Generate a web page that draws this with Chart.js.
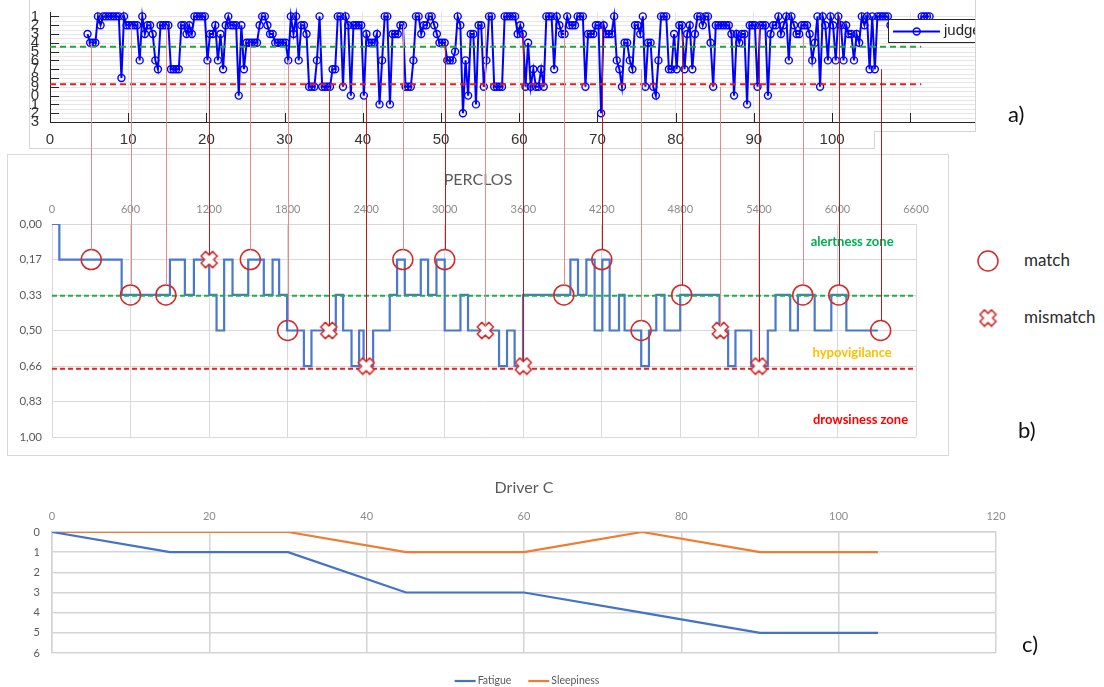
<!DOCTYPE html>
<html>
<head>
<meta charset="utf-8">
<script src="https://cdn.jsdelivr.net/npm/chart.js@4.4.1/dist/chart.umd.min.js"></script>
<style>
  html, body { margin: 0; padding: 0; background: #fff; }
  body { width: 1104px; height: 687px; position: relative; overflow: hidden; font-family: Lato, "Open Sans", sans-serif; }
  .abs { position: absolute; }
  #wrapA { left: 29px; top: 0; width: 946px; height: 148px; overflow: hidden; }
  #frameB { left: 7px; top: 154px; width: 940px; height: 300px; border: 1px solid #d9d9d9; }
  #chartB, #chartA, #chartC { display: block; }
  .rule { position: absolute; background: #d4d4d4; }
  .tag { position: absolute; font-size: 22px; line-height: 22px; color: #111; }
  .key { position: absolute; font-size: 17px; line-height: 20px; color: #2b2b2b; }
  #overlay { left: 0; top: 0; pointer-events: none; z-index: 10; }
</style>
</head>
<body>
<div id="wrapA" class="abs"><canvas id="chartA" width="981" height="148"></canvas></div>
<!-- frame of the rating panel, with its cut lower-right corner -->
<div class="abs" style="left:875px;top:132px;width:101px;height:17px;background:#fff;"></div>
<div class="rule" style="left:29px;top:0;width:1px;height:149px;"></div>
<div class="rule" style="left:29px;top:148px;width:846px;height:1px;"></div>
<div class="rule" style="left:874px;top:131px;width:1px;height:18px;"></div>
<div class="rule" style="left:874px;top:131px;width:102px;height:1px;"></div>
<div class="rule" style="left:975px;top:0;width:1px;height:132px;"></div>

<div id="frameB" class="abs"><canvas id="chartB" width="940" height="300"></canvas></div>
<canvas id="chartC" class="abs" style="left:0;top:470px;" width="1048" height="217"></canvas>

<div class="tag" style="left:1008px;top:103px;">a)</div>
<div class="tag" style="left:1018px;top:419px;">b)</div>
<div class="tag" style="left:1022px;top:633px;">c)</div>
<div class="key" style="left:1024px;top:250px;">match</div>
<div class="key" style="left:1024px;top:307px;">mismatch</div>

<canvas id="overlay" class="abs" width="1104" height="687"></canvas>

<script>
// ---------------- judge ratings (panel a) ----------------
const judgeStart = 4.8;        // minute of the first rating
const judgeStep = 1 / 3;       // minutes between two ratings
const judgeRatings = [
  3,4,4,4,1,2,1,1,1,1,   1,1,1,8,1,2,2,2,2,2,
  6,1,3,2,2,3,6,7,2,2,   2,2,7,7,7,7,2,2,3,2,
  3,1,1,1,1,1,6,3,3,2,   6,3,7,2,1,2,2,2,10,2,
  7,4,4,4,4,4,2,1,1,2,   3,3,4,4,4,4,4,6,1,3,
  1,6,2,2,3,9,9,9,6,1,   9,9,9,9,7,7,1,1,9,1,
  2,10,2,2,2,2,10,3,4,4, 4,3,11,6,1,1,11,3,3,3,
  2,2,9,9,9,6,1,1,3,2,   2,1,1,2,3,4,4,4,6,6,
  6,5,1,2,12,6,10,3,3,11, 2,2,9,6,1,1,9,9,9,9,
  1,1,1,1,1,3,2,3,9,4,   9,7,9,9,7,9,1,1,1,7,
  1,2,3,3,1,2,2,2,1,1,   1,9,3,3,3,2,2,12,2,3,
  3,3,1,6,7,9,4,4,6,7,   2,2,3,1,9,4,4,9,10,6,
  1,1,1,7,7,3,7,2,2,7,   3,2,7,3,1,1,2,1,1,4,
  9,2,2,2,2,2,2,3,10,3,  4,3,3,11,2,2,2,9,2,2,
  2,10,3,2,2,1,3,2,1,6,  1,2,3,3,2,2,2,3,6,4,
  1,9,1,2,6,1,2,6,1,2,   6,2,3,3,6,3,4,1,2,1,
  7,1,7,1,1,1,1,1,2,2,   2,2,2,2,2,2,2,2,2,2,
  1,1,1,1
];
const judgeAlertLimit = 4.45;
const judgeDrowsyLimit = 8.7;
const judgeLimitEnd = 111.4;
const judgeMinuteTicks = [0, 10, 20, 30, 40, 50, 60, 70, 80, 90, 100, 110, 120];
const judgeScaleTicks = [1, 2, 3, 4, 5, 6, 7, 8, 9, 10, 11, 12, 13];

// ---------------- PERCLOS (panel b) ----------------
const perclosTime = [0, 56, 532, 901, 1015, 1084, 1201, 1257, 1315, 1379,
  1499, 1618, 1685, 1735, 1796, 1924, 1982, 2168, 2224, 2288,
  2346, 2380, 2453, 2580, 2636, 2695, 2817, 2873, 2937, 3000,
  3120, 3178, 3415, 3476, 3534, 3598, 3960, 4018, 4082, 4145,
  4204, 4260, 4331, 4374, 4501, 4560, 4616, 4679, 4799, 5099,
  5165, 5221, 5341, 5468, 5527, 5639, 5698, 5826, 5953, 6068, 6309];
const perclosLevel = [0, 0.167, 0.333, 0.167, 0.333, 0.167, 0.333, 0.5, 0.167, 0.333,
  0.167, 0.333, 0.167, 0.333, 0.5, 0.667, 0.5, 0.333, 0.5, 0.667,
  0.5, 0.667, 0.5, 0.333, 0.167, 0.333, 0.167, 0.333, 0.167, 0.5,
  0.333, 0.5, 0.667, 0.5, 0.667, 0.333, 0.167, 0.333, 0.167, 0.5,
  0.167, 0.5, 0.333, 0.5, 0.667, 0.5, 0.333, 0.5, 0.333, 0.5,
  0.667, 0.5, 0.667, 0.5, 0.333, 0.5, 0.333, 0.5, 0.333, 0.5, 0.5];
const perclosAlertLimit = 0.337;
const perclosDrowsyLimit = 0.68;
const perclosSecondTicks = [0, 600, 1200, 1800, 2400, 3000, 3600, 4200, 4800, 5400, 6000, 6600];
const perclosTicks = [0, 1/6, 2/6, 3/6, 4/6, 5/6, 1];
const perclosTickLabels = ['0,00', '0,17', '0,33', '0,50', '0,66', '0,83', '1,00'];

// comparison instants: PERCLOS second, PERCLOS level, judge rating, outcome
const eventTime = [300, 600, 870, 1200, 1515, 1800, 2115, 2400, 2680, 3000, 3310,
  3600, 3910, 4200, 4500, 4810, 5105, 5400, 5735, 6010, 6330];
const eventPerclos = [0.167, 0.333, 0.333, 0.167, 0.167, 0.5, 0.5, 0.667, 0.167, 0.167, 0.5,
  0.667, 0.333, 0.167, 0.5, 0.333, 0.5, 0.667, 0.333, 0.333, 0.5];
const eventJudge = [4, 2, 2, 6, 4, 6, 9, 10, 2, 4, 2, 3, 2, 2, 7, 3, 9, 2, 3, 1, 7];
const eventOutcome = ['match', 'match', 'match', 'mismatch', 'match', 'match', 'mismatch',
  'mismatch', 'match', 'match', 'mismatch', 'mismatch', 'match', 'match', 'match', 'match',
  'mismatch', 'mismatch', 'match', 'match', 'match'];

// ---------------- Driver C (panel c) ----------------
const driverMinutes = [0, 15, 30, 45, 60, 75, 90, 105];
const fatigue = [0, 1, 1, 3, 3, 4, 5, 5];
const sleepiness = [0, 0, 0, 1, 1, 0, 1, 1];
const driverMinuteTicks = [0, 20, 40, 60, 80, 100, 120];
const driverScaleTicks = [0, 1, 2, 3, 4, 5, 6];

// ---------------- styling ----------------
const connectorShade = ['light', 'light', 'light', 'dark', 'light', 'light', 'dark', 'dark', 'light', 'dark', 'light',
  'dark', 'light', 'dark', 'light', 'dark', 'light', 'dark', 'light', 'dark', 'dark'];
const SHADES = { light: '#e48a8a', dark: '#b81c1c' };
const MARK_RED = '#d42a2a';
const EXCEL = 'Lato, "Open Sans", sans-serif';
const MATLAB = '"Liberation Sans", Arial, sans-serif';

Chart.defaults.font.family = EXCEL;

function tickList(values) {
  return axis => { axis.ticks = values.map(v => ({ value: v })); };
}
const plainNumber = v => String(v);

// outlined "x" used for mismatches
function makeCrossMark(size) {
  const c = document.createElement('canvas');
  c.width = c.height = size;
  const g = c.getContext('2d');
  g.translate(size / 2, size / 2);
  g.rotate(Math.PI / 4);
  const w = size * 0.17, L = size * 0.43;
  g.beginPath();
  g.moveTo(-w, -L); g.lineTo(w, -L); g.lineTo(w, -w); g.lineTo(L, -w); g.lineTo(L, w);
  g.lineTo(w, w); g.lineTo(w, L); g.lineTo(-w, L); g.lineTo(-w, w); g.lineTo(-L, w);
  g.lineTo(-L, -w); g.lineTo(-w, -w); g.closePath();
  g.fillStyle = '#fff'; g.fill();
  g.lineJoin = 'round'; g.lineWidth = 1.6; g.strokeStyle = MARK_RED; g.stroke();
  return c;
}
const crossMark = makeCrossMark(19);

// ---------------- panel a: MATLAB-like axes ----------------
const matlabAxes = {
  id: 'matlabAxes',
  beforeDatasetsDraw(chart) {
    const { ctx, chartArea: a, scales: { x, y } } = chart;
    ctx.save();
    ctx.strokeStyle = '#e6e6e6';
    ctx.lineWidth = 1;
    for (let v = 1; v <= 12.5; v += 0.5) {
      const py = Math.round(y.getPixelForValue(v)) + 0.5;
      ctx.beginPath(); ctx.moveTo(a.left + 1, py); ctx.lineTo(a.right, py); ctx.stroke();
    }
    ctx.strokeStyle = '#262626';
    judgeScaleTicks.forEach(v => {
      const py = Math.round(y.getPixelForValue(v)) + 0.5;
      ctx.beginPath(); ctx.moveTo(a.left, py); ctx.lineTo(a.left + 9, py); ctx.stroke();
    });
    judgeMinuteTicks.forEach(v => {
      const px = Math.round(x.getPixelForValue(v)) + 0.5;
      ctx.beginPath(); ctx.moveTo(px, a.bottom); ctx.lineTo(px, a.bottom - 9); ctx.stroke();
    });
    ctx.restore();
  },
  afterDraw(chart) {
    // legend box
    const { ctx } = chart;
    ctx.save();
    ctx.fillStyle = '#fff';
    ctx.strokeStyle = '#262626';
    ctx.lineWidth = 1;
    ctx.fillRect(859.5, 19.5, 200, 23);
    ctx.strokeRect(859.5, 19.5, 200, 23);
    ctx.strokeStyle = '#0000ff';
    ctx.lineWidth = 2;
    ctx.beginPath(); ctx.moveTo(864, 31.5); ctx.lineTo(911, 31.5); ctx.stroke();
    ctx.lineWidth = 1.4;
    ctx.beginPath(); ctx.arc(887.7, 31.5, 3.5, 0, Math.PI * 2); ctx.stroke();
    ctx.fillStyle = '#262626';
    ctx.font = '15px ' + MATLAB;
    ctx.textBaseline = 'middle';
    ctx.fillText('judge', 915, 31);
    ctx.restore();
  }
};

const chartA = new Chart(document.getElementById('chartA'), {
  type: 'line',
  data: {
    datasets: [
      {
        label: 'judge',
        data: judgeRatings.map((v, i) => ({ x: judgeStart + i * judgeStep, y: v })),
        borderColor: '#0000ff', borderWidth: 2,
        pointStyle: 'circle', pointRadius: 3.5, pointBorderWidth: 1.4,
        pointBorderColor: '#0000ff', pointBackgroundColor: 'rgba(0,0,0,0)',
        clip: false, order: 2
      },
      {
        data: [{ x: 0, y: judgeAlertLimit }, { x: judgeLimitEnd, y: judgeAlertLimit }],
        borderColor: '#22a637', borderWidth: 2, borderDash: [6, 4], pointRadius: 0, order: 1
      },
      {
        data: [{ x: 0, y: judgeDrowsyLimit }, { x: judgeLimitEnd, y: judgeDrowsyLimit }],
        borderColor: '#ec1c1c', borderWidth: 2, borderDash: [6, 4], pointRadius: 0, order: 1
      }
    ]
  },
  options: {
    responsive: false, animation: false, devicePixelRatio: 1,
    layout: { padding: { top: 6.4, right: 12, left: 0, bottom: 0 } },
    plugins: { legend: { display: false }, tooltip: { enabled: false }, title: { display: false } },
    scales: {
      x: {
        type: 'linear', position: 'bottom', min: 0, max: 120,
        afterBuildTicks: tickList(judgeMinuteTicks),
        afterFit: s => { s.height = 26; },
        grid: { color: '#e6e6e6', drawTicks: false },
        border: { color: '#262626', width: 1 },
        ticks: { font: { family: MATLAB, size: 15 }, color: '#333', padding: 9, maxRotation: 0, autoSkip: false,
          callback: plainNumber }
      },
      y: {
        type: 'linear', position: 'left', min: 0.5, max: 13, reverse: true,
        afterBuildTicks: tickList(judgeScaleTicks),
        afterFit: s => { s.width = 21; },
        grid: { display: false },
        border: { color: '#262626', width: 1 },
        ticks: { font: { family: MATLAB, size: 15 }, color: '#333', padding: 3, autoSkip: false,
          callback: plainNumber }
      }
    }
  },
  plugins: [matlabAxes]
});

// ---------------- panel b ----------------
const zoneLabels = {
  id: 'zoneLabels',
  afterDatasetsDraw(chart) {
    const { ctx, scales: { x, y } } = chart;
    ctx.save();
    ctx.font = 'bold 13px ' + EXCEL;
    ctx.textAlign = 'center';
    ctx.textBaseline = 'middle';
    const zones = [
      ['alertness zone', '#00b050', 6112, 0.083],
      ['hypovigilance', '#ffc000', 6112, 0.604],
      ['drowsiness zone', '#ff0000', 6176, 0.917]
    ];
    zones.forEach(([txt, col, zx, zy]) => {
      ctx.fillStyle = col;
      ctx.fillText(txt, x.getPixelForValue(zx), y.getPixelForValue(zy));
    });
    ctx.restore();
  }
};

const perclosPoints = perclosTime.map((t, i) => ({ x: t, y: perclosLevel[i] }));
const matchPoints = [], mismatchPoints = [];
eventTime.forEach((t, i) => {
  (eventOutcome[i] === 'match' ? matchPoints : mismatchPoints).push({ x: t, y: eventPerclos[i] });
});

const chartB = new Chart(document.getElementById('chartB'), {
  type: 'line',
  data: {
    datasets: [
      { data: matchPoints, showLine: false, pointStyle: 'circle', pointRadius: 10, pointBorderWidth: 1.5,
        pointBorderColor: MARK_RED, pointBackgroundColor: 'rgba(0,0,0,0)', clip: false, order: 0 },
      { data: mismatchPoints, showLine: false, pointStyle: crossMark, pointRadius: 9, clip: false, order: 0 },
      { data: [{ x: 0, y: perclosAlertLimit }, { x: 6600, y: perclosAlertLimit }],
        borderColor: '#1fae4b', borderWidth: 2, borderDash: [5, 3], pointRadius: 0, order: 1 },
      { data: [{ x: 0, y: perclosDrowsyLimit }, { x: 6600, y: perclosDrowsyLimit }],
        borderColor: '#f01c1c', borderWidth: 2, borderDash: [5, 3], pointRadius: 0, order: 1 },
      { label: 'PERCLOS', data: perclosPoints, stepped: true, borderColor: '#4a78cc', borderWidth: 2.2,
        pointRadius: 0, order: 2 }
    ]
  },
  options: {
    responsive: false, animation: false, devicePixelRatio: 1,
    layout: { padding: { top: 0, right: 0, left: 0, bottom: 18 } },
    plugins: {
      legend: { display: false }, tooltip: { enabled: false },
      title: { display: true, text: 'PERCLOS', color: '#595959', font: { size: 16, weight: 'normal' },
        padding: { top: 15.4, bottom: 0 } }
    },
    scales: {
      x: {
        type: 'linear', position: 'top', min: 0, max: 6600,
        afterBuildTicks: tickList(perclosSecondTicks),
        afterFit: s => { s.height = 34.4; },
        grid: { color: '#d9d9d9', drawTicks: false },
        border: { color: '#d9d9d9' },
        ticks: { font: { size: 11 }, color: '#8c8c8c', padding: 8.4, maxRotation: 0, autoSkip: false,
          callback: plainNumber }
      },
      y: {
        type: 'linear', position: 'left', min: 0, max: 1, reverse: true,
        afterBuildTicks: tickList(perclosTicks),
        afterFit: s => { s.width = 44; },
        grid: { color: '#d9d9d9', drawTicks: false },
        border: { color: '#d9d9d9' },
        ticks: { font: { size: 11.5 }, color: '#595959', padding: 10, autoSkip: false,
          callback: (v, i) => perclosTickLabels[i] }
      },
      yRight: {
        type: 'linear', position: 'right', afterFit: s => { s.width = 32; },
        grid: { display: false }, border: { display: false }, ticks: { display: false }
      }
    }
  },
  plugins: [zoneLabels]
});

// ---------------- panel c ----------------
const seriesKey = {
  id: 'seriesKey',
  afterDraw(chart) {
    const { ctx, chartArea: a } = chart;
    const items = chart.data.datasets.map(d => [d.label, d.borderColor]);
    ctx.save();
    ctx.font = '10.5px ' + EXCEL;
    ctx.textBaseline = 'middle';
    const seg = 21, gapText = 2, gapItem = 17;
    const widths = items.map(([t]) => seg + gapText + ctx.measureText(t).width);
    const total = widths.reduce((s, w) => s + w, 0) + gapItem * (items.length - 1);
    let px = (a.left + a.right) / 2 - total / 2 + 3;
    const py = a.bottom + 28;
    items.forEach(([t, col], i) => {
      ctx.strokeStyle = col; ctx.lineWidth = 2.2;
      ctx.beginPath(); ctx.moveTo(px, py); ctx.lineTo(px + seg, py); ctx.stroke();
      ctx.fillStyle = '#595959';
      ctx.fillText(t, px + seg + gapText, py);
      px += widths[i] + gapItem;
    });
    ctx.restore();
  }
};

const chartC = new Chart(document.getElementById('chartC'), {
  type: 'line',
  data: {
    labels: driverMinutes,
    datasets: [
      { label: 'Fatigue', data: driverMinutes.map((m, i) => ({ x: m, y: fatigue[i] })),
        borderColor: '#4472c4', borderWidth: 2.2, pointRadius: 0, tension: 0 },
      { label: 'Sleepiness', data: driverMinutes.map((m, i) => ({ x: m, y: sleepiness[i] })),
        borderColor: '#ed7d31', borderWidth: 2.2, pointRadius: 0, tension: 0 }
    ]
  },
  options: {
    responsive: false, animation: false, devicePixelRatio: 1,
    layout: { padding: { top: 0, right: 0, left: 0, bottom: 34 } },
    plugins: {
      legend: { display: false }, tooltip: { enabled: false },
      title: { display: true, text: 'Driver C', color: '#595959', font: { size: 16, weight: 'normal' },
        padding: { top: 8.4, bottom: 0 } }
    },
    scales: {
      x: {
        type: 'linear', position: 'top', min: 0, max: 120,
        afterBuildTicks: tickList(driverMinuteTicks),
        afterFit: s => { s.height = 34.4; },
        grid: { color: '#d4d4d4', lineWidth: 1.5, drawTicks: false },
        border: { color: '#d4d4d4', width: 1.5 },
        ticks: { font: { size: 11 }, color: '#8c8c8c', padding: 8.7, maxRotation: 0, autoSkip: false,
          callback: plainNumber }
      },
      y: {
        type: 'linear', position: 'left', min: 0, max: 6, reverse: true,
        afterBuildTicks: tickList(driverScaleTicks),
        afterFit: s => { s.width = 52; },
        grid: { color: '#d4d4d4', lineWidth: 1.5, drawTicks: false },
        border: { color: '#d4d4d4', width: 1.5 },
        ticks: { font: { size: 11 }, color: '#595959', padding: 12, autoSkip: false,
          callback: plainNumber }
      },
      yRight: {
        type: 'linear', position: 'right', afterFit: s => { s.width = 52; },
        grid: { display: false }, border: { display: false }, ticks: { display: false }
      }
    }
  },
  plugins: [seriesKey]
});

// ---------------- connectors between the two upper panels ----------------
(function drawConnectors() {
  const ov = document.getElementById('overlay');
  const ctx = ov.getContext('2d');
  const page = ov.getBoundingClientRect();
  const ra = document.getElementById('chartA').getBoundingClientRect();
  const rb = document.getElementById('chartB').getBoundingClientRect();
  const ay = ra.top - page.top;
  const bx = rb.left - page.left, by = rb.top - page.top;
  ctx.lineWidth = 1;
  eventTime.forEach((t, i) => {
    const x = Math.round(bx + chartB.scales.x.getPixelForValue(t)) + 0.5;
    const yTop = ay + chartA.scales.y.getPixelForValue(eventJudge[i]);
    const cy = by + chartB.scales.y.getPixelForValue(eventPerclos[i]);
    const yEnd = cy - (eventOutcome[i] === 'match' ? 10 : 4.5);
    ctx.strokeStyle = SHADES[connectorShade[i]];
    ctx.beginPath(); ctx.moveTo(x, yTop); ctx.lineTo(x, yEnd); ctx.stroke();
  });
  // key symbols
  ctx.strokeStyle = MARK_RED;
  ctx.lineWidth = 1.5;
  ctx.beginPath(); ctx.arc(988, 261, 10, 0, Math.PI * 2); ctx.stroke();
  ctx.drawImage(crossMark, 988 - crossMark.width / 2, 318 - crossMark.height / 2);
})();
</script>
</body>
</html>
